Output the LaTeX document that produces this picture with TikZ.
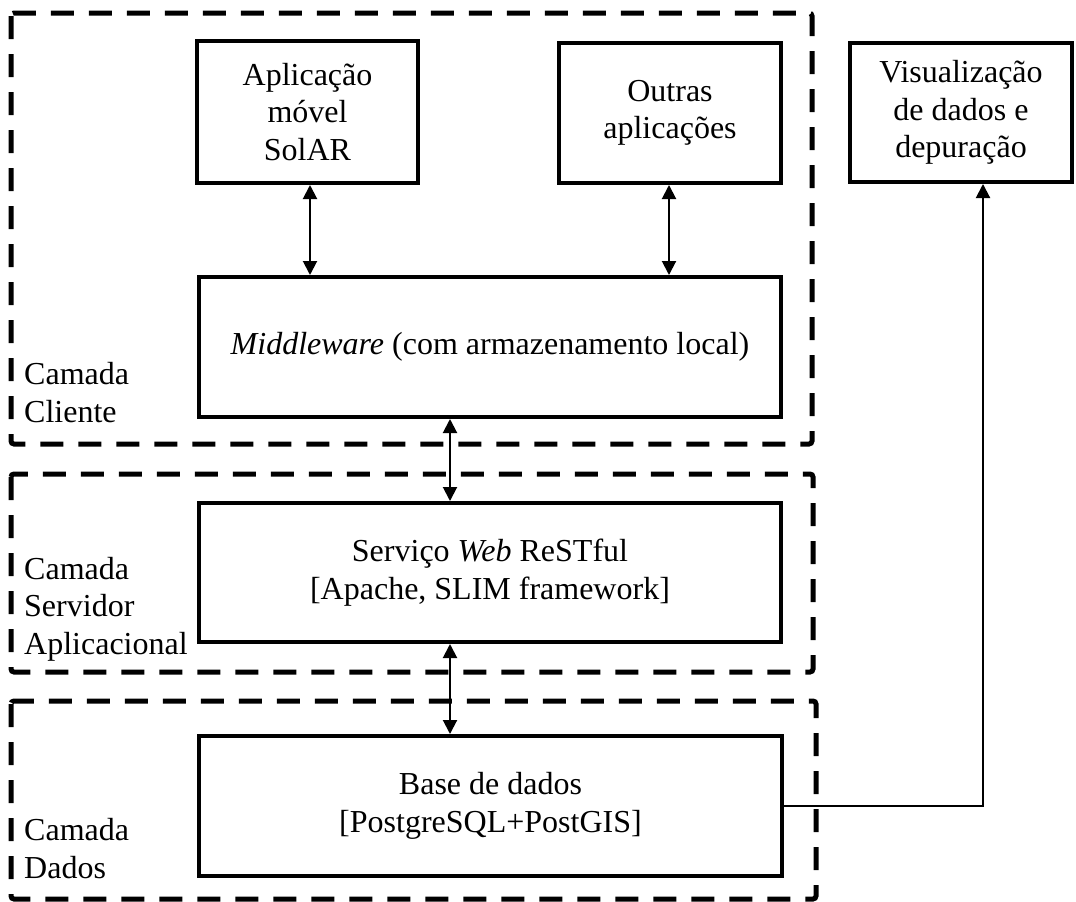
\documentclass[tikz,border=0pt]{standalone}
\usepackage{fontspec}
\setmainfont{Liberation Serif}
\usetikzlibrary{arrows.meta}
\begin{document}
\begin{tikzpicture}[x=1pt, y=-1pt,
  txt/.style={font=\fontsize{32}{37.5}\selectfont},
  box/.style={draw, line width=4pt, align=center, inner sep=0pt, txt},
  layer/.style={draw, line width=5pt, dash pattern=on 23pt off 15pt, rounded corners=3pt},
  lbl/.style={anchor=base west, align=left, inner sep=0pt, txt},
  link/.style={line width=2pt, {Triangle[length=14pt, width=14pt]}-{Triangle[length=14pt, width=14pt]}},
  feed/.style={line width=2pt, -{Triangle[length=14pt, width=14pt]}},
]
\useasboundingbox (0,0) rectangle (1076,902);

% layer frames
\draw[layer] (11,13) rectangle (812,444);
\draw[layer] (11,474) rectangle (813,672);
\draw[layer] (11,701) rectangle (816,899);

% layer labels (anchored on the baseline of the last line)
\node[lbl] (lcli) at (24,422) {Camada\\Cliente};
\node[lbl] (lsrv) at (24,654) {Camada\\Servidor\\Aplicacional};
\node[lbl] (ldat) at (24,878) {Camada\\Dados};

% components
\node[box, minimum width=221pt, minimum height=142pt] (app) at (307.5,112) {Aplicação\\móvel\\SolAR};
\node[box, minimum width=222pt, minimum height=140pt] (out) at (670,113) {Outras\\aplicações};
\node[box, minimum width=222pt, minimum height=139pt] (vis) at (961,112.5) {Visualização\\de dados e\\depuração};
\node[box, minimum width=582pt, minimum height=140pt] (mw) at (490,347) {\textit{Middleware} (com armazenamento local)};
\node[box, minimum width=582pt, minimum height=139pt] (srv) at (490,572.5) {Serviço \textit{Web} ReSTful\\{[}Apache, SLIM framework{]}};
\node[box, minimum width=583pt, minimum height=140pt] (db) at (490.5,806) {Base de dados\\{[}PostgreSQL+PostGIS{]}};

% connections
\draw[link] ([xshift=2.5pt]app.south) -- ([xshift=2.5pt]app.south |- mw.north);
\draw[link] ([xshift=-1pt]out.south) -- ([xshift=-1pt]out.south |- mw.north);
\draw[link] ([xshift=-40pt]mw.south) -- ([xshift=-40pt]srv.north);
\draw[link] ([xshift=-40pt]srv.south) -- ([xshift=-40.5pt]db.north);
\draw[feed] (db.east) -| ([xshift=22pt]vis.south);
\end{tikzpicture}
\end{document}
